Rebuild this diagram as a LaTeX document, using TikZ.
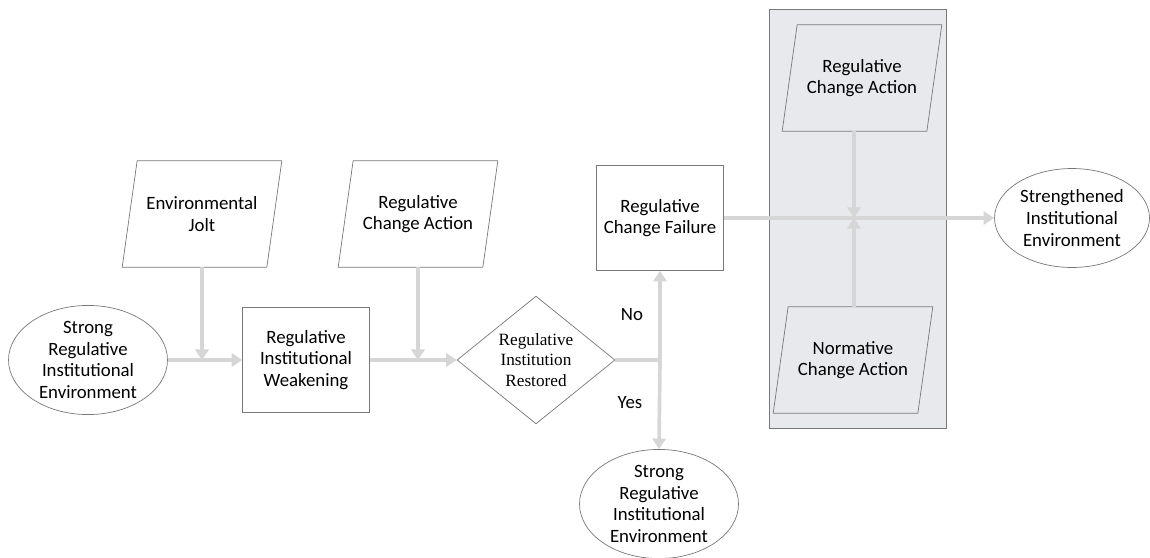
\documentclass[tikz,border=0pt]{standalone}
\usepackage{fontspec}
\setmainfont{Carlito}
\newfontfamily\diamondfont{Liberation Serif}
\usetikzlibrary{shapes.geometric,arrows.meta}
\definecolor{panelgray}{RGB}{232,233,237}
\definecolor{edgegray}{RGB}{120,120,120}
\definecolor{flowgray}{RGB}{214,214,214}

\begin{document}
\begin{tikzpicture}[x=0.02cm,y=-0.02cm,
  font=\fontsize{10.7}{12.3}\selectfont,
  envbox/.style={ellipse,draw=edgegray,thin,fill=white,minimum width=3.18cm,minimum height=2.12cm,align=center,inner sep=0pt},
  procbox/.style={rectangle,draw=edgegray,thin,fill=white,minimum width=2.54cm,minimum height=2.1cm,align=center},
  inputbox/.style={rectangle,minimum width=3.18cm,minimum height=2.12cm,align=center},
  decbox/.style={diamond,draw=edgegray,thin,fill=white,minimum width=3.16cm,minimum height=2.1cm,align=center,inner sep=0pt,font=\diamondfont\fontsize{9.8}{11.7}\selectfont},
  slanted/.style={draw=edgegray,thin},
  flow/.style={draw=flowgray,line width=2.1pt},
  flowarrow/.style={flow,-{Triangle[length=6pt,width=7.5pt]}}
]
\useasboundingbox (0,0) rectangle (1150,558);

% grey panel
\node[draw=edgegray,thin,fill=panelgray,minimum width=3.54cm,minimum height=8.38cm] (panel) at (857.5,218.5) {};

% nodes
\node[envbox] (strong) at (88,360) {Strong\\Regulative\\Institutional\\Environment};
\node[inputbox] (jolt) at (202,214) {Environmental\\Jolt};
\node[procbox] (weak) at (306,360) {Regulative\\Institutional\\Weakening};
\node[inputbox] (action) at (418,214) {Regulative\\Change Action};
\node[decbox] (restored) at (536,360) {Regulative\\Institution\\Restored};
\node[procbox] (failure) at (660,218) {Regulative\\Change Failure};
\node[envbox] (strongagain) at (659,504) {Strong\\Regulative\\Institutional\\Environment};
\node[inputbox] (panelaction) at (862,78) {Regulative\\Change Action};
\node[inputbox] (normative) at (853,360) {Normative\\Change Action};
\node[envbox,minimum width=3.1cm,minimum height=1.98cm] (strengthened) at (1072,218) {Strengthened\\Institutional\\Environment};

% parallelogram outlines
\foreach \n in {jolt,action,panelaction,normative}
  \draw[slanted] ([xshift=0.3cm]\n.north west) -- (\n.north east)
    -- ([xshift=-0.3cm]\n.south east) -- (\n.south west) -- cycle;

% labels
\node (no) at (632,315) {No};
\node (yes) at (630,403) {Yes};

% junctions
\coordinate (split) at (failure.south |- restored.east);
\coordinate (cross) at (854,218);

% connectors
\draw[flowarrow] (strong) -- (weak);
\draw[flowarrow] (jolt.south) -- (jolt.south |- weak.west);
\draw[flowarrow] (weak) -- (restored);
\draw[flowarrow] (action.south) -- (action.south |- restored.west);
\draw[flow] (restored.east) -- (split);
\draw[flowarrow] (split) -- (failure.south);
\draw[flowarrow] (split) -- (strongagain.north);
\draw[flowarrow] (failure.east) -- (strengthened.west);
\draw[flowarrow] (panelaction.south -| cross) -- (cross);
\draw[flowarrow] (normative.north -| cross) -- (cross);
\end{tikzpicture}
\end{document}
